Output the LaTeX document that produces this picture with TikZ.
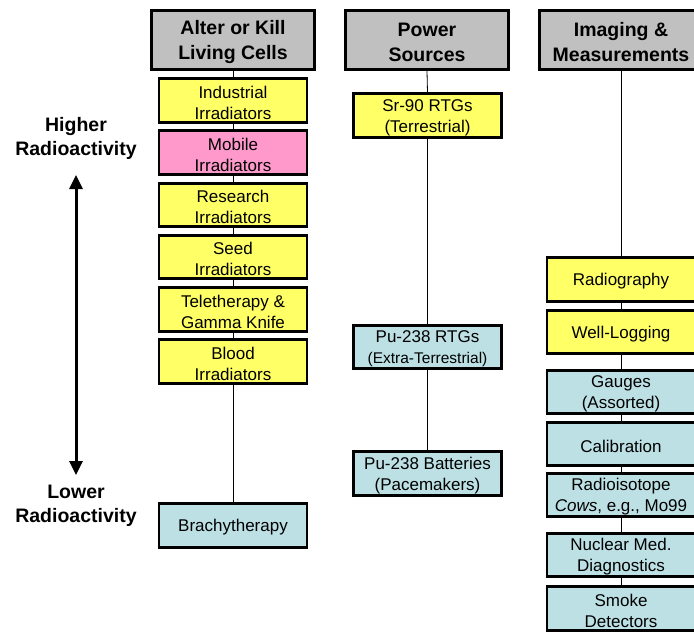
\documentclass[tikz,border=0pt]{standalone}
\usepackage{fontspec}
\setmainfont{Liberation Sans}
\usetikzlibrary{arrows.meta}
\definecolor{hdrgray}{HTML}{C0C0C0}
\definecolor{boxyellow}{HTML}{FFFF66}
\definecolor{boxpink}{HTML}{FF99CC}
\definecolor{boxblue}{HTML}{BCE0E4}
\tikzset{
  hdr/.style={draw=black, line width=3.2pt, fill=hdrgray, minimum width=163pt, minimum height=59pt, inner sep=0pt},
  hdrtxt/.style={align=center, inner sep=0pt, yshift=-2pt, font=\fontsize{19.5}{25}\selectfont\bfseries},
  item/.style={draw=black, line width=2.6pt, minimum width=148pt, minimum height=43.5pt, inner sep=0pt},
  itemtxt/.style={align=center, inner sep=0pt, yshift=-2pt, font=\fontsize{17}{21}\selectfont},
  yel/.style={item, fill=boxyellow},
  pnk/.style={item, fill=boxpink},
  blu/.style={item, fill=boxblue},
  conn/.style={draw=black, line width=0.8pt},
  side/.style={align=center, font=\fontsize{19.5}{24}\selectfont\bfseries, inner sep=0pt},
}
\begin{document}
\begin{tikzpicture}[x=1pt,y=-1pt]
\useasboundingbox (0,0) rectangle (694,632);
\clip (0,0) rectangle (694,632);
% headers
\node[hdr, label={[hdrtxt]center:{Alter or Kill\\Living Cells}}] (h1) at (233,40) {};
\node[hdr, label={[hdrtxt]center:{Power\\Sources}}] (h2) at (427,40) {};
\node[hdr, label={[hdrtxt]center:{Imaging \&\\Measurements}}] (h3) at (621,40) {};
% column 1
\node[yel, label={[itemtxt]center:{Industrial\\Irradiators}}] (c1a) at (233,100.5) {};
\node[pnk, label={[itemtxt]center:{Mobile\\Irradiators}}] (c1b) at (233,152.5) {};
\node[yel, label={[itemtxt]center:{Research\\Irradiators}}] (c1c) at (233,205) {};
\node[yel, label={[itemtxt]center:{Seed\\Irradiators}}] (c1d) at (233,257) {};
\node[yel, label={[itemtxt]center:{Teletherapy \&\\Gamma Knife}}] (c1e) at (233,309.5) {};
\node[yel, label={[itemtxt]center:{Blood\\Irradiators}}] (c1f) at (233,361.5) {};
\node[blu, label={[itemtxt]center:{Brachytherapy}}] (c1g) at (233,525.5) {};
% column 2
\node[yel, label={[itemtxt]center:{Sr-90 RTGs\\(Terrestrial)}}] (c2a) at (427.5,115.5) {};
\node[blu, label={[itemtxt]center:{Pu-238 RTGs\\{\fontsize{15.5}{19}\selectfont(Extra-Terrestrial)}}}] (c2b) at (427.5,347) {};
\node[blu, label={[itemtxt]center:{Pu-238 Batteries\\(Pacemakers)}}] (c2c) at (427.5,473.5) {};
% column 3
\node[yel, label={[itemtxt]center:{Radiography}}] (c3a) at (621,279.5) {};
\node[yel, label={[itemtxt]center:{Well-Logging}}] (c3b) at (621,332) {};
\node[blu, label={[itemtxt]center:{Gauges\\(Assorted)}}] (c3c) at (621,392) {};
\node[blu, label={[itemtxt]center:{Calibration}}] (c3d) at (621,444) {};
\node[blu, label={[itemtxt]center:{Radioisotope\\\textit{Cows}, e.g., Mo99}}] (c3e) at (621,495) {};
\node[blu, label={[itemtxt]center:{Nuclear Med.\\Diagnostics}}] (c3f) at (621,555) {};
\node[blu, label={[itemtxt]center:{Smoke\\Detectors}}] (c3g) at (621,608.5) {};
% connectors
\draw[conn] (h1.south) -- (c1a.north);
\draw[conn] (c1a.south) -- (c1b.north);
\draw[conn] (c1b.south) -- (c1c.north);
\draw[conn] (c1c.south) -- (c1d.north);
\draw[conn] (c1d.south) -- (c1e.north);
\draw[conn] (c1e.south) -- (c1f.north);
\draw[conn] (c1f.south) -- (c1g.north);
\draw[conn] (h2.south) -- (c2a.north);
\draw[conn] (c2a.south) -- (c2b.north);
\draw[conn] (c2b.south) -- (c2c.north);
\draw[conn] (h3.south) -- (c3a.north);
\draw[conn] (c3a.south) -- (c3b.north);
\draw[conn] (c3b.south) -- (c3c.north);
\draw[conn] (c3c.south) -- (c3d.north);
\draw[conn] (c3d.south) -- (c3e.north);
\draw[conn] (c3e.south) -- (c3f.north);
\draw[conn] (c3f.south) -- (c3g.north);
% side labels and arrow
\node[side] (hi) at (76,138) {Higher\\Radioactivity};
\node[side] (lo) at (76,506) {Lower\\Radioactivity};
\coordinate (atop) at (76,175);
\coordinate (abot) at (76,475);
\draw[line width=3pt, {Triangle[width=13pt,length=14pt]}-{Triangle[width=13pt,length=14pt]}] (atop) -- (abot);
\end{tikzpicture}
\end{document}
